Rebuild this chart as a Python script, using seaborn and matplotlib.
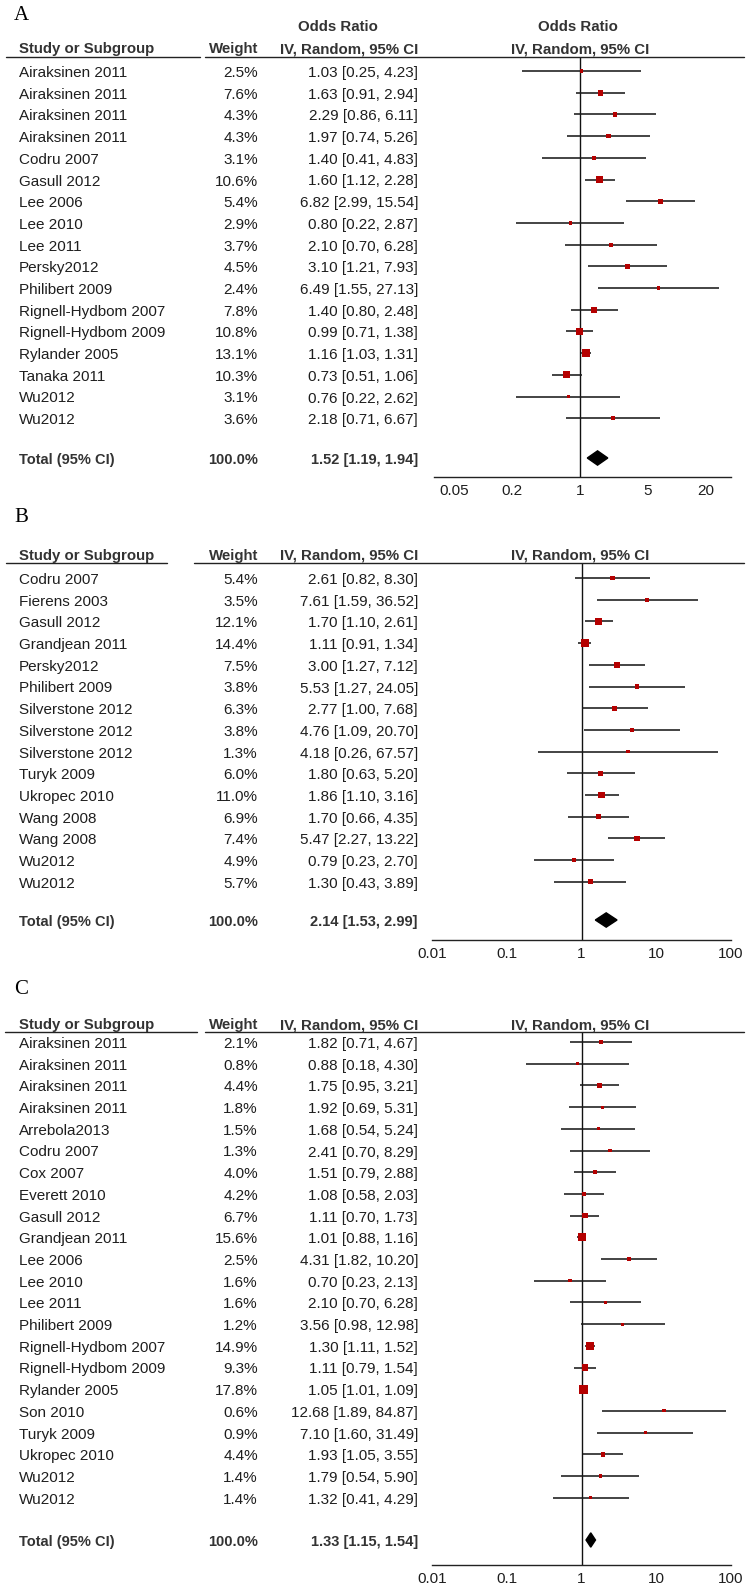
import numpy as np
import pandas as pd
import matplotlib
matplotlib.use('Agg')
import matplotlib.pyplot as plt
import matplotlib.transforms as mtransforms
from matplotlib.lines import Line2D
import seaborn as sns

# ---------------- data ----------------
a_studies = ['Airaksinen 2011', 'Airaksinen 2011', 'Airaksinen 2011', 'Airaksinen 2011',
             'Codru 2007', 'Gasull 2012', 'Lee 2006', 'Lee 2010', 'Lee 2011', 'Persky2012',
             'Philibert 2009', 'Rignell-Hydbom 2007', 'Rignell-Hydbom 2009', 'Rylander 2005',
             'Tanaka 2011', 'Wu2012', 'Wu2012']
a_weight = [2.5, 7.6, 4.3, 4.3, 3.1, 10.6, 5.4, 2.9, 3.7, 4.5, 2.4, 7.8, 10.8, 13.1, 10.3, 3.1, 3.6]
a_or = [1.03, 1.63, 2.29, 1.97, 1.40, 1.60, 6.82, 0.80, 2.10, 3.10, 6.49, 1.40, 0.99, 1.16, 0.73, 0.76, 2.18]
a_lo = [0.25, 0.91, 0.86, 0.74, 0.41, 1.12, 2.99, 0.22, 0.70, 1.21, 1.55, 0.80, 0.71, 1.03, 0.51, 0.22, 0.71]
a_hi = [4.23, 2.94, 6.11, 5.26, 4.83, 2.28, 15.54, 2.87, 6.28, 7.93, 27.13, 2.48, 1.38, 1.31, 1.06, 2.62, 6.67]
a_total = [1.52, 1.19, 1.94]
a_ticks = [0.05, 0.2, 1, 5, 20]
a_ticklabels = ['0.05', '0.2', '1', '5', '20']

b_studies = ['Codru 2007', 'Fierens 2003', 'Gasull 2012', 'Grandjean 2011', 'Persky2012',
             'Philibert 2009', 'Silverstone 2012', 'Silverstone 2012', 'Silverstone 2012',
             'Turyk 2009', 'Ukropec 2010', 'Wang 2008', 'Wang 2008', 'Wu2012', 'Wu2012']
b_weight = [5.4, 3.5, 12.1, 14.4, 7.5, 3.8, 6.3, 3.8, 1.3, 6.0, 11.0, 6.9, 7.4, 4.9, 5.7]
b_or = [2.61, 7.61, 1.70, 1.11, 3.00, 5.53, 2.77, 4.76, 4.18, 1.80, 1.86, 1.70, 5.47, 0.79, 1.30]
b_lo = [0.82, 1.59, 1.10, 0.91, 1.27, 1.27, 1.00, 1.09, 0.26, 0.63, 1.10, 0.66, 2.27, 0.23, 0.43]
b_hi = [8.30, 36.52, 2.61, 1.34, 7.12, 24.05, 7.68, 20.70, 67.57, 5.20, 3.16, 4.35, 13.22, 2.70, 3.89]
b_total = [2.14, 1.53, 2.99]

c_studies = ['Airaksinen 2011', 'Airaksinen 2011', 'Airaksinen 2011', 'Airaksinen 2011',
             'Arrebola2013', 'Codru 2007', 'Cox 2007', 'Everett 2010', 'Gasull 2012',
             'Grandjean 2011', 'Lee 2006', 'Lee 2010', 'Lee 2011', 'Philibert 2009',
             'Rignell-Hydbom 2007', 'Rignell-Hydbom 2009', 'Rylander 2005', 'Son 2010',
             'Turyk 2009', 'Ukropec 2010', 'Wu2012', 'Wu2012']
c_weight = [2.1, 0.8, 4.4, 1.8, 1.5, 1.3, 4.0, 4.2, 6.7, 15.6, 2.5, 1.6, 1.6, 1.2,
            14.9, 9.3, 17.8, 0.6, 0.9, 4.4, 1.4, 1.4]
c_or = [1.82, 0.88, 1.75, 1.92, 1.68, 2.41, 1.51, 1.08, 1.11, 1.01, 4.31, 0.70, 2.10, 3.56,
        1.30, 1.11, 1.05, 12.68, 7.10, 1.93, 1.79, 1.32]
c_lo = [0.71, 0.18, 0.95, 0.69, 0.54, 0.70, 0.79, 0.58, 0.70, 0.88, 1.82, 0.23, 0.70, 0.98,
        1.11, 0.79, 1.01, 1.89, 1.60, 1.05, 0.54, 0.41]
c_hi = [4.67, 4.30, 3.21, 5.31, 5.24, 8.29, 2.88, 2.03, 1.73, 1.16, 10.20, 2.13, 6.28, 12.98,
        1.52, 1.54, 1.09, 84.87, 31.49, 3.55, 5.90, 4.29]
c_total = [1.33, 1.15, 1.54]
bc_ticks = [0.01, 0.1, 1, 10, 100]
bc_ticklabels = ['0.01', '0.1', '1', '10', '100']

# ---------------- figure ----------------
sns.set_style('white')
plt.rcParams['font.family'] = ['Liberation Sans', 'DejaVu Sans']

W, H = 749, 1589
fig = plt.figure(figsize=(W / 100, H / 100), dpi=100)

TXT = '#1e1e1e'
HDR = '#333333'
SQ = '#b40000'
ROW = 21.7  # pixel spacing between study rows
DY = 2 / ROW  # nudge text down a little so it sits like the original


def fx(px):
    return px / W


def fy(py):
    return 1 - py / H


def hline(x0, x1, y):
    fig.add_artist(Line2D([fx(x0), fx(x1)], [fy(y), fy(y)], color='#222222', lw=1.0))


def draw_panel(letter, studies, weight, orv, lo, hi, total, ticks, ticklabels, lay):
    ax_l, ax_r, top, bot, r0 = lay['ax_l'], lay['ax_r'], lay['top'], lay['bot'], lay['r0']
    ax = fig.add_axes([fx(ax_l), fy(bot), fx(ax_r) - fx(ax_l), (bot - top) / H])
    n = len(studies)
    df = pd.DataFrame({'study': studies, 'weight': weight, 'or': orv, 'lo': lo, 'hi': hi,
                       'row': np.arange(n)})
    # square side grows with sqrt(weight), small ones kept visible
    side_pt = np.maximum(2.1 * np.sqrt(df['weight']), 3.2) * 0.72
    df['area'] = side_pt ** 2

    ax.set_xscale('log')
    ax.set_xlim(lay['xlim'])
    ax.set_ylim((bot - r0) / ROW, (top - r0) / ROW)

    # reference line at OR = 1
    ax.axvline(1, color='#111111', lw=1.0, zorder=1)
    # confidence intervals
    ax.hlines(df['row'], df['lo'], df['hi'], color='#1a1a1a', lw=1.15, zorder=2)
    # weighted squares
    sns.scatterplot(data=df, x='or', y='row', size='area',
                    sizes=(df['area'].min(), df['area'].max()),
                    marker='s', color=SQ, edgecolor='none', legend=False, ax=ax, zorder=3)
    # pooled diamond
    t_row = (lay['total'] - r0) / ROW
    est, tlo, thi = total
    ax.fill([tlo, est, thi, est], [t_row, t_row - 0.33, t_row, t_row + 0.33],
            color='black', zorder=3)

    for s in ['top', 'left', 'right']:
        ax.spines[s].set_visible(False)
    ax.spines['bottom'].set_color('#222222')
    ax.spines['bottom'].set_linewidth(1.0)
    ax.set_xticks(ticks)
    ax.set_xticklabels(ticklabels)
    ax.xaxis.set_minor_locator(matplotlib.ticker.NullLocator())
    ax.tick_params(axis='x', direction='in', length=6, width=1.0, color='#222222',
                   labelsize=11, labelcolor=TXT, pad=5)
    ax.set_yticks([])
    ax.set_xlabel('')
    ax.set_ylabel('')

    tr = mtransforms.blended_transform_factory(fig.transFigure, ax.transData)

    # study rows
    for i in range(n):
        ax.text(fx(19), i + DY, studies[i], transform=tr, ha='left', va='center',
                fontsize=11, color=TXT)
        ax.text(fx(258), i + DY, '%.1f%%' % weight[i], transform=tr, ha='right',
                va='center', fontsize=11, color=TXT)
        ax.text(fx(418), i + DY, '%.2f [%.2f, %.2f]' % (orv[i], lo[i], hi[i]),
                transform=tr, ha='right', va='center', fontsize=11, color=TXT)

    # total row
    ax.text(fx(19), t_row + DY, 'Total (95% CI)', transform=tr, ha='left', va='center',
            fontsize=10.5, fontweight='bold', color=HDR)
    ax.text(fx(258), t_row + DY, '100.0%', transform=tr, ha='right', va='center',
            fontsize=10.5, fontweight='bold', color=HDR)
    ax.text(fx(418), t_row + DY, '%.2f [%.2f, %.2f]' % tuple(total), transform=tr,
            ha='right', va='center', fontsize=10.5, fontweight='bold', color=HDR)

    # headers
    h = lay['hdr']
    fig.text(fx(19), fy(h), 'Study or Subgroup', ha='left', va='center',
             fontsize=10.8, fontweight='bold', color=HDR)
    fig.text(fx(258), fy(h), 'Weight', ha='right', va='center',
             fontsize=10.8, fontweight='bold', color=HDR)
    fig.text(fx(418), fy(h), 'IV, Random, 95% CI', ha='right', va='center',
             fontsize=10.8, fontweight='bold', color=HDR)
    fig.text(fx(580), fy(h), 'IV, Random, 95% CI', ha='center', va='center',
             fontsize=10.8, fontweight='bold', color=HDR)
    if lay.get('or_hdr'):
        fig.text(fx(338), fy(lay['or_hdr']), 'Odds Ratio', ha='center', va='center',
                 fontsize=10.8, fontweight='bold', color=HDR)
        fig.text(fx(578), fy(lay['or_hdr']), 'Odds Ratio', ha='center', va='center',
                 fontsize=10.8, fontweight='bold', color=HDR)

    # header underlines
    hline(lay['ul'][0], lay['ul'][1], top)
    hline(lay['ul'][2], 744, top)

    # panel letter
    fig.text(fx(14), fy(lay['letter']), letter, ha='left', va='center',
             fontsize=15, family='Liberation Serif', color='black')
    return ax


draw_panel('A', a_studies, a_weight, a_or, a_lo, a_hi, a_total, a_ticks, a_ticklabels,
           dict(ax_l=434, ax_r=731, top=57, bot=477, r0=71, total=458, hdr=49,
                or_hdr=27, ul=(6, 200, 205), letter=16, xlim=(0.031, 36.4)))
draw_panel('B', b_studies, b_weight, b_or, b_lo, b_hi, b_total, bc_ticks, bc_ticklabels,
           dict(ax_l=432, ax_r=731, top=563, bot=940, r0=578, total=920, hdr=556,
                ul=(6, 167, 194), letter=518, xlim=(0.01, 100)))
draw_panel('C', c_studies, c_weight, c_or, c_lo, c_hi, c_total, bc_ticks, bc_ticklabels,
           dict(ax_l=432, ax_r=731, top=1032, bot=1565, r0=1042, total=1540, hdr=1025,
                ul=(5, 197, 205), letter=990, xlim=(0.01, 100)))

plt.savefig('out.png', dpi=100, facecolor='white')
